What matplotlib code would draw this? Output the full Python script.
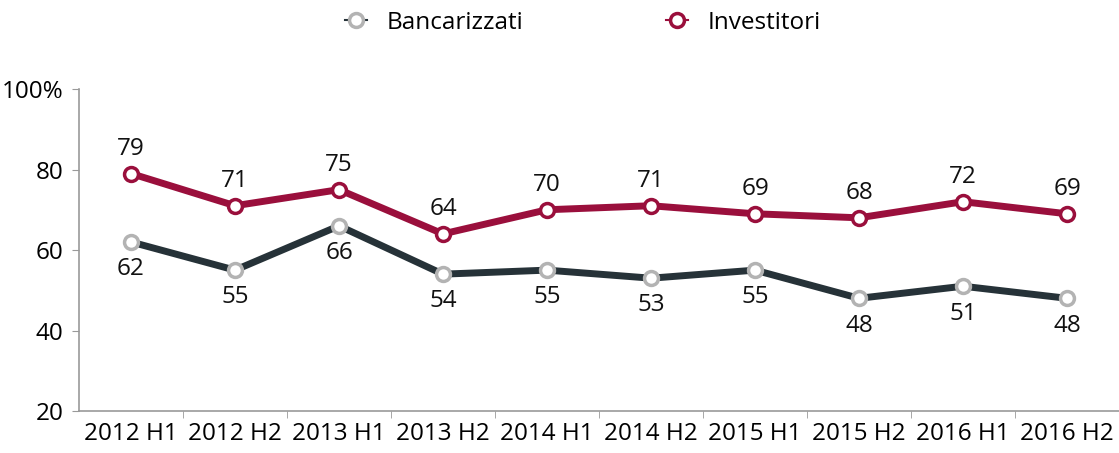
import matplotlib.pyplot as plt
from matplotlib.lines import Line2D
import numpy as np

periods = ["2012 H1", "2012 H2", "2013 H1", "2013 H2", "2014 H1",
           "2014 H2", "2015 H1", "2015 H2", "2016 H1", "2016 H2"]
bancarizzati = [62, 55, 66, 54, 55, 53, 55, 48, 51, 48]
investitori = [79, 71, 75, 64, 70, 71, 69, 68, 72, 69]

plt.rcParams['font.family'] = ['Open Sans', 'DejaVu Sans']

red = "#9a0f3c"
dark = "#263238"
grey = "#b3b3b3"
fs = 17.5

fig = plt.figure(figsize=(11.19, 4.53), dpi=100)
ax = fig.add_axes([0.0706, 0.0927, 0.9294, 0.7108])

x = np.arange(len(periods))
ax.plot(x, bancarizzati, color=dark, lw=5, marker="o", markersize=10,
        markerfacecolor="white", markeredgecolor=grey, markeredgewidth=2.5,
        zorder=3)
ax.plot(x, investitori, color=red, lw=5, marker="o", markersize=10,
        markerfacecolor="white", markeredgecolor=red, markeredgewidth=2.5,
        zorder=3)

for xi, v in zip(x, bancarizzati):
    ax.annotate(str(v), (xi, v), xytext=(0, -11), textcoords="offset points",
                ha="center", va="top", fontsize=fs, color="#111111")
for xi, v in zip(x, investitori):
    ax.annotate(str(v), (xi, v), xytext=(0, 9), textcoords="offset points",
                ha="center", va="bottom", fontsize=fs, color="#111111")

ax.set_xlim(-0.5, len(periods) - 0.5)
ax.set_ylim(20, 100)
ax.set_yticks([20, 40, 60, 80, 100])
ax.set_yticklabels(["20", "40", "60", "80", "100%"], fontsize=fs)
ax.set_xticks(x)
ax.set_xticklabels(periods, fontsize=fs)
ax.tick_params(axis="x", length=0, pad=8)
ax.set_xticks(np.arange(0.5, len(periods) - 0.5), minor=True)
ax.tick_params(axis="x", which="minor", length=5, color="#999999")
ax.tick_params(axis="y", length=5, color="#999999", pad=6)

for s in ["top", "right"]:
    ax.spines[s].set_visible(False)
for s in ["left", "bottom"]:
    ax.spines[s].set_color("#999999")
    ax.spines[s].set_linewidth(1.2)

handles = [
    Line2D([], [], color=dark, lw=1.5, marker="o", markersize=10,
           markerfacecolor="white", markeredgecolor=grey, markeredgewidth=2.5),
    Line2D([], [], color=red, lw=1.5, marker="o", markersize=10,
           markerfacecolor="white", markeredgecolor=red, markeredgewidth=2.5),
]
fig.legend(handles, ["Bancarizzati", "Investitori"], loc="upper center",
           bbox_to_anchor=(0.521, 1.025), ncol=2, frameon=False,
           fontsize=fs, handlelength=0.9, columnspacing=5.9, handletextpad=0.8)

fig.savefig("out.png", dpi=100)
